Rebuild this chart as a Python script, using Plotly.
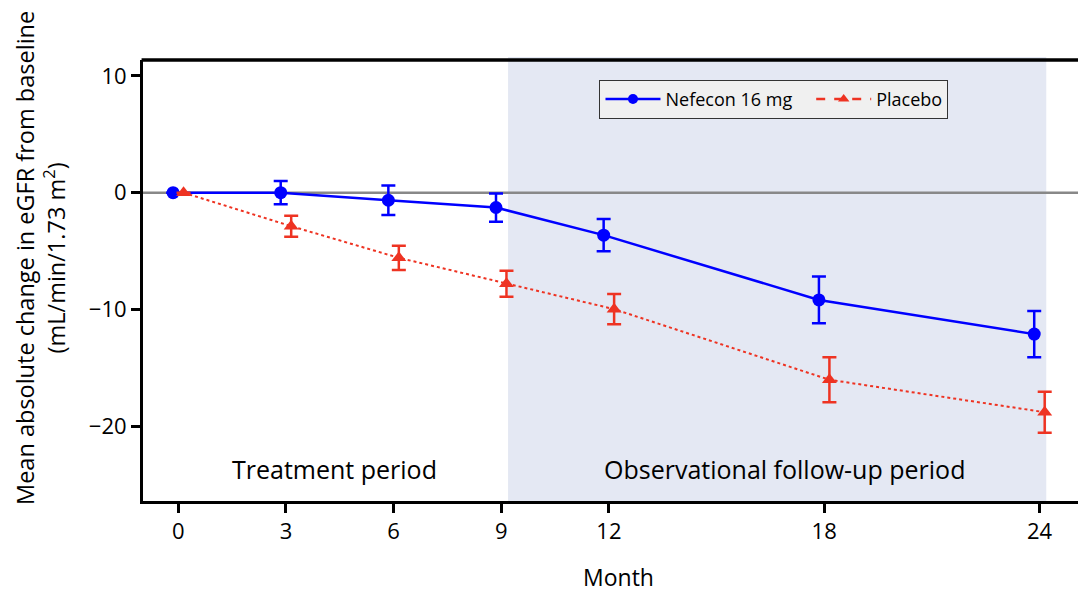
import plotly.graph_objects as go

months = [0, 3, 6, 9, 12, 18, 24]
tick_labels = ["0", "3", "6", "9", "12", "18", "24"]

nefecon_mean = [0.0, 0.0, -0.65, -1.27, -3.64, -9.19, -12.12]
nefecon_err = [0.0, 1.0, 1.26, 1.21, 1.38, 2.0, 1.98]

placebo_mean = [0.0, -2.87, -5.58, -7.8, -9.98, -16.03, -18.81]
placebo_err = [0.0, 0.9, 1.04, 1.11, 1.3, 1.93, 1.76]

dodge = 0.146
BLUE = "#0000FF"
RED = "#EE3322"
FONT = "Open Sans"

fig = go.Figure()

# follow-up shading
fig.add_shape(type="rect", xref="x", yref="paper", x0=9.19, x1=24.19, y0=0, y1=1.007,
              fillcolor="#E4E8F3", line=dict(width=0), layer="below")
# zero reference line
fig.add_shape(type="line", xref="paper", yref="y", x0=0, x1=1, y0=0, y1=0,
              line=dict(color="#888888", width=2.5), layer="below")
# top border
fig.add_shape(type="line", xref="paper", yref="paper", x0=-0.0015, x1=1, y0=1, y1=1,
              line=dict(color="black", width=3.5))

fig.add_trace(go.Scatter(
    x=[m - dodge for m in months], y=nefecon_mean, mode="lines+markers",
    line=dict(color=BLUE, width=2.5),
    marker=dict(symbol="circle", size=13, color=BLUE),
    error_y=dict(type="data", array=nefecon_err, visible=True, color=BLUE, thickness=2.5, width=7),
    showlegend=False))

fig.add_trace(go.Scatter(
    x=[m + dodge for m in months], y=placebo_mean, mode="lines+markers",
    line=dict(color=RED, width=2, dash="dot"),
    marker=dict(symbol="triangle-up", size=13, color=RED),
    error_y=dict(type="data", array=placebo_err, visible=True, color=RED, thickness=2.5, width=7),
    showlegend=False))

# legend entries
fig.add_trace(go.Scatter(x=[None], y=[None], mode="lines+markers", name="Nefecon 16 mg   ",
                         line=dict(color=BLUE, width=2.5), marker=dict(symbol="circle", size=10, color=BLUE)))
fig.add_trace(go.Scatter(x=[None], y=[None], mode="lines+markers", name="Placebo",
                         line=dict(color=RED, width=2.5, dash="dash"), marker=dict(symbol="triangle-up", size=10, color=RED)))

fig.add_annotation(x=4.35, y=-23.7, xref="x", yref="y", text="Treatment period", showarrow=False,
                   font=dict(family=FONT, size=25, color="black"))
fig.add_annotation(x=16.9, y=-23.7, xref="x", yref="y", text="Observational follow-up period", showarrow=False,
                   font=dict(family=FONT, size=25, color="black"))

fig.add_annotation(xref="paper", yref="paper", x=0, y=0.551, xshift=-103, textangle=-90,
                   text="Mean absolute change in eGFR from baseline<br>(mL/min/1.73 m<sup>2</sup>)",
                   showarrow=False, xanchor="center", yanchor="middle",
                   font=dict(family=FONT, size=23.5, color="black"))

fig.update_layout(
    width=1086, height=592,
    margin=dict(l=135, r=0, t=52, b=99),
    plot_bgcolor="white", paper_bgcolor="white",
    font=dict(family=FONT, size=22, color="black"),
    legend=dict(orientation="h", x=0.48, y=0.955, xanchor="left", yanchor="top",
                bgcolor="#F0F0F0", bordercolor="#333333", borderwidth=1, itemwidth=55,
                font=dict(family=FONT, size=18, color="black")),
    xaxis=dict(range=[-0.984, 25.52], tickvals=months, ticktext=tick_labels,
               showgrid=False, zeroline=False, showline=True, linecolor="black", linewidth=3,
               ticks="outside", ticklen=9, tickwidth=3, tickcolor="black",
               tickfont=dict(family=FONT, size=22),
               title=dict(text="Month", font=dict(family=FONT, size=23), standoff=26)),
    yaxis=dict(range=[-26.42, 11.37], tickvals=[-20, -10, 0, 10],
               showgrid=False, zeroline=False, showline=True, linecolor="black", linewidth=3,
               ticks="outside", ticklen=9, tickwidth=3, tickcolor="black",
               tickfont=dict(family=FONT, size=22)),
)

fig.write_html("out.html")
